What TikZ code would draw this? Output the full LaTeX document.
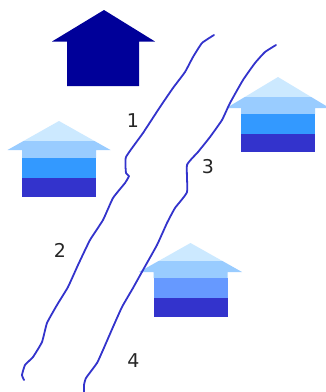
\documentclass[tikz,border=0pt]{standalone}
\usepackage{fontspec}
\setmainfont{DejaVu Sans}
\definecolor{bandA}{HTML}{CCE9FF}
\definecolor{bandB}{HTML}{99CCFF}
\definecolor{bandC}{HTML}{3399FF}
\definecolor{bandCC}{HTML}{6699FF}
\definecolor{bandD}{HTML}{3333CC}
\definecolor{navyhouse}{HTML}{000099}
\tikzset{
  shore/.style={draw=bandD,line width=1.8pt,line join=round,line cap=round,smooth,tension=0.25},
  numlabel/.style={font=\fontsize{19}{19}\selectfont,text=black!85,inner sep=0pt}
}
% #1 apex x, #2 apex y, #3 band1 bottom, #4 eave y, #5 band2 bottom, #6 band3 bottom, #7 bottom, #8 band3 colour
\newcommand{\bandhouse}[8]{
  \fill[bandA] (#1,#2) -- ({#1+(-51.5)*(#3-#2)/(#4-#2)},#3) -- ({#1+51.5*(#3-#2)/(#4-#2)},#3) -- cycle;
  \fill[bandB] ({#1+(-51.5)*(#3-#2)/(#4-#2)},#3) -- ({#1-51.5},#4) -- ({#1-37},#4) -- ({#1-37},#5) -- ({#1+37},#5) -- ({#1+37},#4) -- ({#1+51.5},#4) -- ({#1+51.5*(#3-#2)/(#4-#2)},#3) -- cycle;
  \fill[#8] ({#1-37},#5) rectangle ({#1+37},#6);
  \fill[bandD] ({#1-37},#6) rectangle ({#1+37},#7);
}
\begin{document}
\begin{tikzpicture}[x=1pt,y=-1pt]
\useasboundingbox (0,0) rectangle (325,392);
\fill[white] (0,0) rectangle (325,392);
\fill[navyhouse] (104,10) -- (155,41.5) -- (139,41.5) -- (139,86) -- (67,86) -- (67,41.5) -- (52,41.5) -- cycle;
\bandhouse{59}{121}{141}{150}{158}{178}{197}{bandC}
\bandhouse{278}{77}{97}{108}{114}{134}{152}{bandC}
\bandhouse{190.5}{243}{261}{272}{278}{298}{317}{bandCC}
\draw[shore] plot coordinates {(214,35) (202,43) (193,57) (185,72) (173,88) (160,107) (143,133) (126,157) (126,173) (129,176) (125,183) (113,198) (103,220) (90,240) (78,265) (68,287) (57,305) (47,323) (42,342) (33,357) (25,365) (22,375) (24,380)};
\draw[shore] plot coordinates {(276,45) (265,52) (255,63) (243,80) (230,103) (222,120) (210,137) (198,152) (187,165) (187,192) (175,208) (167,223) (157,245) (143,270) (133,288) (122,307) (113,327) (103,350) (97,363) (86,378) (84,385) (84,392)};
\node[numlabel] (one) at (133,120.5) {1};
\node[numlabel] (two) at (60,250) {2};
\node[numlabel] (three) at (208,167) {3};
\node[numlabel] (four) at (133.5,361) {4};
\end{tikzpicture}
\end{document}
